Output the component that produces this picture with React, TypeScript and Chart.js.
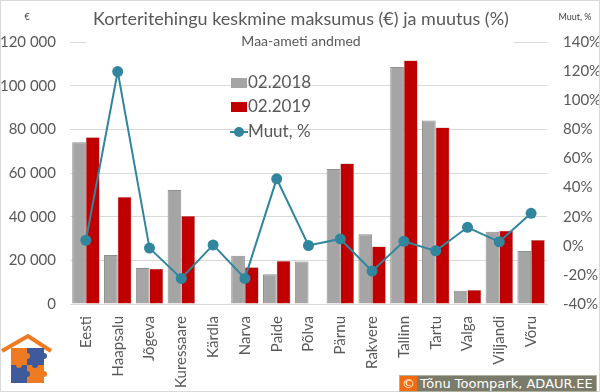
import React, { useEffect, useRef } from "react";
import { Chart, registerables } from "chart.js";

Chart.register(...registerables);

const categories = ["Eesti", "Haapsalu", "Jõgeva", "Kuressaare", "Kärdla", "Narva", "Paide", "Põlva", "Pärnu", "Rakvere", "Tallinn", "Tartu", "Valga", "Viljandi", "Võru"];
const values2018 = [74100, 22400, 16500, 52200, null, 22100, 13600, 19500, 61800, 32000, 108600, 84100, 6100, 33100, 24300];
const values2019 = [76400, 49000, 16200, 40300, null, 16800, 19700, null, 64400, 26300, 111500, 80800, 6400, 33600, 29300];
const changePct = [3.8, 119.7, -1.6, -22.4, 0.6, -22.4, 46, 0.2, 4.7, -17.4, 3.1, -3.5, 12.7, 2.7, 22.3];

const title = "Korteritehingu keskmine maksumus (€) ja muutus (%)";
const subtitle = "Maa-ameti andmed";
const legendLabels = ["02.2018", "02.2019", "Muut, %"];

const GRAY = "#A5A5A5";
const RED = "#C00000";
const TEAL = "#31859C";
const TXT = "#595959";
const FONT = "Lato, 'Open Sans', sans-serif";

const overlayPlugin = {
  id: "overlay",
  beforeDatasetsDraw(chart: any) {
    const ctx = chart.ctx;
    // white title box covering top gridline
    ctx.save();
    ctx.fillStyle = "#ffffff";
    ctx.fillRect(86, 36, 428, 14);
    ctx.restore();
  },
  afterDraw(chart: any) {
    const ctx = chart.ctx;
    ctx.save();
    ctx.textBaseline = "middle";
    // title
    ctx.fillStyle = TXT;
    ctx.textAlign = "center";
    ctx.font = `18px ${FONT}`;
    ctx.fillText(title, 301, 19);
    ctx.font = `14px ${FONT}`;
    ctx.fillText(subtitle, 301, 41);
    // axis titles
    ctx.font = `9px ${FONT}`;
    ctx.fillStyle = "#404040";
    ctx.fillText("€", 27, 17);
    ctx.fillText("Muut, %", 575, 17);
    // legend
    ctx.textAlign = "left";
    ctx.font = `17px ${FONT}`;
    ctx.fillStyle = GRAY;
    ctx.fillRect(231, 78, 16, 10);
    ctx.fillStyle = RED;
    ctx.fillRect(231, 102, 16, 10);
    ctx.strokeStyle = TEAL;
    ctx.lineWidth = 2;
    ctx.beginPath();
    ctx.moveTo(230, 132);
    ctx.lineTo(248, 132);
    ctx.stroke();
    ctx.fillStyle = TEAL;
    ctx.beginPath();
    ctx.arc(239, 132, 5, 0, Math.PI * 2);
    ctx.fill();
    ctx.fillStyle = TXT;
    ctx.fillText(legendLabels[0], 248, 83);
    ctx.fillText(legendLabels[1], 248, 107);
    ctx.fillText(legendLabels[2], 248, 132);
    ctx.restore();
  },
};

function Logo() {
  return (
    <svg width="60" height="72" viewBox="0 0 60 72" style={{ position: "absolute", left: 0, top: 320 }}>
      <polyline points="2,31 28,16 51,31" fill="none" stroke="#EE7A21" strokeWidth="4" />
      <rect x="11" y="28" width="16" height="17" fill="#EE7A21" />
      <rect x="27" y="28" width="17" height="17" fill="#3E5A9A" />
      <rect x="11" y="45" width="16" height="18" fill="#3E5A9A" />
      <rect x="27" y="45" width="17" height="18" fill="#EE7A21" />
      <circle cx="27" cy="36" r="3" fill="#EE7A21" />
      <circle cx="19" cy="45" r="3" fill="#EE7A21" />
      <circle cx="35" cy="45" r="3" fill="#3E5A9A" />
      <circle cx="27" cy="54" r="3" fill="#3E5A9A" />
      <circle cx="44" cy="36" r="3" fill="#3E5A9A" />
      <circle cx="44" cy="54" r="3" fill="#EE7A21" />
    </svg>
  );
}

export default function App() {
  const ref = useRef<HTMLCanvasElement>(null);
  useEffect(() => {
    if (!ref.current) return;
    const chart = new Chart(ref.current, {
      type: "bar",
      data: {
        labels: categories,
        datasets: [
          {
            type: "line",
            label: legendLabels[2],
            data: changePct,
            yAxisID: "y1",
            borderColor: TEAL,
            backgroundColor: TEAL,
            borderWidth: 2,
            pointRadius: 5.5,
            pointBackgroundColor: TEAL,
            pointBorderWidth: 0,
            order: 0,
          } as any,
          {
            label: legendLabels[0],
            data: values2018,
            yAxisID: "y",
            backgroundColor: GRAY,
            borderColor: "#8f8f8f",
            borderWidth: 1,
            categoryPercentage: 0.86,
            barPercentage: 1,
            order: 1,
          },
          {
            label: legendLabels[1],
            data: values2019,
            yAxisID: "y",
            backgroundColor: RED,
            borderColor: "#a88",
            borderWidth: 0.5,
            categoryPercentage: 0.86,
            barPercentage: 1,
            order: 2,
          },
        ],
      },
      options: {
        animation: false,
        responsive: false,
        layout: { padding: { top: 42, left: 0, right: 0, bottom: 0 } },
        plugins: { legend: { display: false }, tooltip: { enabled: false } },
        scales: {
          x: {
            grid: { display: false },
            border: { display: true, color: "#D9D9D9" },
            ticks: {
              color: TXT,
              font: { family: FONT, size: 15 },
              maxRotation: 90,
              minRotation: 90,
              autoSkip: false,
              padding: 4,
            },
            afterFit: (s: any) => { s.height = 88; },
          },
          y: {
            position: "left",
            min: 0,
            max: 120000,
            grid: { color: "#D9D9D9", drawTicks: false },
            border: { display: false },
            ticks: {
              stepSize: 20000,
              color: TXT,
              font: { family: FONT, size: 15 },
              padding: 14,
              callback: (v: any) => Number(v).toLocaleString("en-US").replace(/,/g, " "),
            },
            afterFit: (s: any) => { s.width = 70; },
          },
          y1: {
            position: "right",
            min: -40,
            max: 140,
            grid: { display: false },
            border: { display: false },
            ticks: {
              stepSize: 20,
              color: TXT,
              font: { family: FONT, size: 15 },
              padding: 8,
              callback: (v: any) => `${v}%`,
            },
            afterFit: (s: any) => { s.width = 53; },
          },
        },
      },
      plugins: [overlayPlugin],
    });
    return () => chart.destroy();
  }, []);
  return (
    <div style={{ position: "fixed", left: 0, top: 0, width: 600, height: 392, background: "#fff", overflow: "hidden" }}>
      <canvas ref={ref} width={600} height={392} style={{ position: "absolute", left: 0, top: 0 }} />
      <div style={{ position: "absolute", left: 0, top: 0, width: 598, height: 390, border: "1px solid #D9D9D9", pointerEvents: "none" }} />
      <Logo />
      <div
        style={{
          position: "absolute",
          left: 399,
          top: 375,
          width: 196,
          height: 15,
          background: "#7B7B6B",
          border: "1px solid #B0B0A0",
          display: "flex",
          alignItems: "center",
          fontFamily: "'DejaVu Sans', sans-serif",
          fontSize: 13,
          color: "#fff",
          whiteSpace: "nowrap",
        }}
      >
        <span style={{ background: "#F26B10", padding: "0 2px", height: 15, lineHeight: "15px", marginRight: 3 }}>©</span>
        <span>Tõnu Toompark, ADAUR.EE</span>
      </div>
    </div>
  );
}
